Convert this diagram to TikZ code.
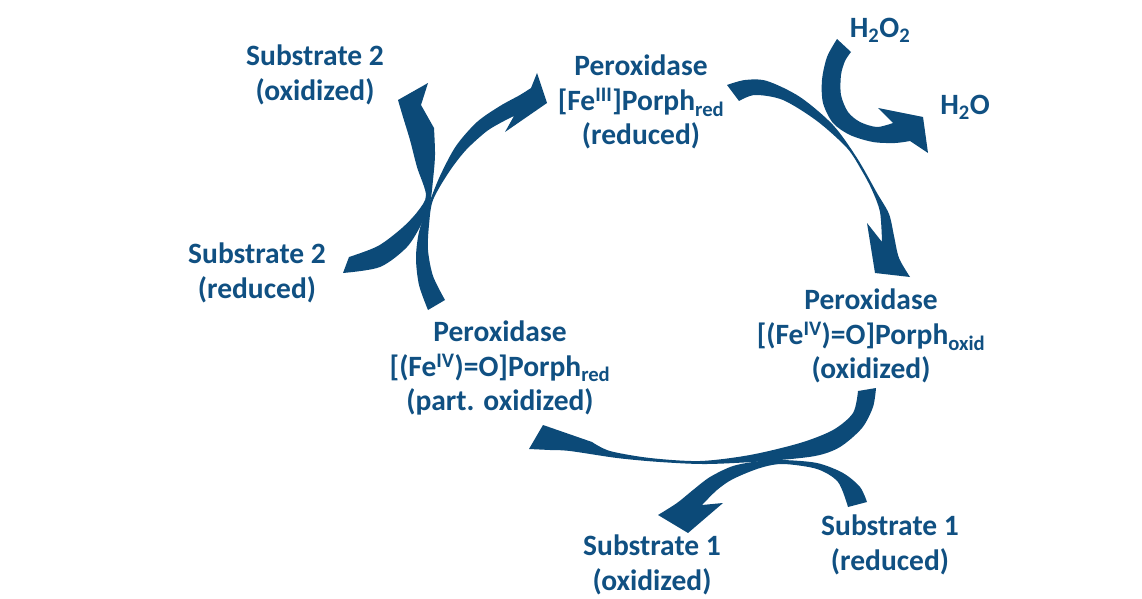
\documentclass[tikz,border=0pt]{standalone}
\usepackage{fontspec}
\setmainfont{Carlito}
\usepackage{tikz}
\definecolor{txtblue}{RGB}{16,80,130}
\definecolor{arrblue}{RGB}{12,74,120}

\begin{document}
\begin{tikzpicture}[x=1pt, y=-1pt,
  lbl/.style={text=txtblue, font=\bfseries\fontsize{29.5}{34.5}\selectfont, align=center, inner sep=0pt},
  blk/.style={fill=arrblue, draw=none}]
\useasboundingbox (0,0) rectangle (1142,599);
% labels
\node[lbl] (subtwoox) at (315,75) {Substrate 2\\(oxidized)};
\node[lbl] (perred) at (641,102) {Peroxidase\\{[}Fe\textsuperscript{III}]Porph\textsubscript{red}\\(reduced)};
\node[lbl] (hhoo) at (880,30) {H\textsubscript{2}O\textsubscript{2}};
\node[lbl] (hho) at (965,107) {H\textsubscript{2}O};
\node[lbl] (subtwored) at (257,273) {Substrate 2\\(reduced)};
\node[lbl] (perpart) at (500,368) {Peroxidase\\{[}(Fe\textsuperscript{IV})=O]Porph\textsubscript{red}\\(part. oxidized)};
\node[lbl] (perox) at (871,336) {Peroxidase\\{[}(Fe\textsuperscript{IV})=O]Porph\textsubscript{oxid}\\(oxidized)};
\node[lbl] (subonered) at (890,545) {Substrate 1\\(reduced)};
\node[lbl] (subeoneox) at (652,565) {Substrate 1\\(oxidized)};
% reduced -> oxidized
\fill[blk] (727,85) -- plot[smooth] coordinates {(727,85) (745,80) (767,81) (800,97) (833,125) (857,158) (877,193) (889,214) (894,236) (899,258) (910,277)}
  -- (875,273) -- (867,223) -- (882,242)
  -- plot[smooth] coordinates {(882,242) (880,212) (872,190) (862,171) (847,148) (817,121) (783,100) (755,95) (739,101)} -- cycle;
% oxidized -> part. oxidized
\fill[blk] (876,388) -- plot[smooth] coordinates {(876,388) (873,407) (862,428) (840,447) (815,456) (767,461) (707,464) (660,462) (617,458) (570,451) (550,450)}
  -- (529,449) -- (543,425) -- (592,442)
  -- plot[smooth] coordinates {(592,442) (610,451) (650,458) (700,461) (750,455) (800,443) (833,430) (853,413) (858,391)} -- cycle;
% part. oxidized -> reduced
\fill[blk] (428,310) -- plot[smooth] coordinates {(428,310) (419,285) (416,258) (419,232) (428,206) (440,176) (456,146) (477,122) (500,106) (520,95) (531,88)}
  -- (537,73) -- (547,103) -- (505,132) -- (514,116)
  -- plot[smooth] coordinates {(514,116) (504,121) (487,131) (466,150) (449,172) (433,200) (429,225) (428,250) (433,276) (445,300)} -- cycle;
% substrate 2
\fill[blk] (343,273) -- plot[smooth] coordinates {(343,273) (380,267) (407,247) (422,223) (430,203) (433,180) (435,155) (434,128)}
  -- (421,105) -- (428,83) -- (398,100)
  -- plot[smooth] coordinates {(398,100) (403,117) (410,140) (417,167) (426,195) (418,211) (402,228) (378,246) (349,257)} -- cycle;
% H2O2 -> H2O
\fill[blk] (837,39) -- plot[smooth] coordinates {(837,39) (827,57) (822,80) (823,103) (833,123) (850,135) (873,142) (895,143) (910,141)}
  -- (928,153) -- (923,117) -- (878,108) -- (893,123)
  -- plot[smooth] coordinates {(893,123) (877,127) (860,122) (848,112) (841,95) (841,75) (845,61) (851,52)} -- cycle;
% substrate 1
\fill[blk] (867,502) -- plot[smooth] coordinates {(867,502) (860,487) (843,473) (817,463) (783,460) (760,461) (733,466) (710,477) (693,490) (677,503) (658,515)}
  -- (688,533) -- (723,503) -- (702,505)
  -- plot[smooth] coordinates {(702,505) (717,490) (733,479) (760,468) (783,464) (817,469) (838,482) (848,507)} -- cycle;
\end{tikzpicture}
\end{document}
